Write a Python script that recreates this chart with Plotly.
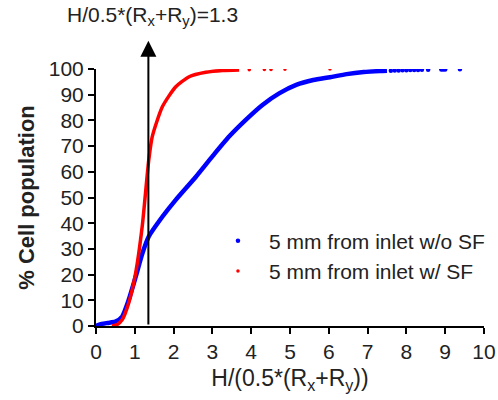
import plotly.graph_objects as go

# Blue: 5 mm from inlet w/o SF (main curve)
blue_x = [0.0, 0.15, 0.3, 0.5, 0.67, 0.84, 1.02, 1.19, 1.36, 1.71, 2.05, 2.57, 3.0, 3.43, 3.86, 4.29, 4.72, 5.16, 5.6, 6.03, 6.46, 6.9, 7.32, 7.5]
blue_y = [0.0, 0.8, 1.2, 1.7, 3.6, 10.0, 19.0, 28.0, 34.8, 42.5, 49.0, 58.0, 66.0, 73.7, 80.2, 86.0, 90.5, 93.8, 95.7, 96.8, 98.0, 98.8, 99.2, 99.3]
# Blue tail points (sparser, drawn as dots)
blue_tail_x = [7.6, 7.7, 7.8, 7.9, 8.0, 8.1, 8.2, 8.3, 8.4, 8.56, 8.9, 8.95, 9.0, 9.38]
blue_tail_y = [99.3, 99.4, 99.4, 99.5, 99.5, 99.6, 99.6, 99.6, 99.7, 99.7, 99.8, 99.8, 99.8, 99.9]

# Red: 5 mm from inlet w/ SF (main curve)
red_x = [0.41, 0.55, 0.67, 0.84, 1.02, 1.19, 1.36, 1.45, 1.71, 2.05, 2.4, 2.83, 3.26, 3.69]
red_y = [0.0, 0.6, 2.3, 8.8, 20.5, 38.6, 64.6, 73.7, 85.3, 93.0, 97.0, 98.7, 99.4, 99.6]
# Red isolated tail points
red_tail_x = [3.95, 4.34, 4.51, 4.87, 6.03]
red_tail_y = [99.7, 99.8, 99.8, 99.9, 100.0]

x_ticks = [0, 1, 2, 3, 4, 5, 6, 7, 8, 9, 10]
y_ticks = [0, 10, 20, 30, 40, 50, 60, 70, 80, 90, 100]

threshold = 1.3
arrow_x = 1.35

BLUE = "#0000ff"
RED = "#ff0000"
FONT = "Liberation Sans, Arial"

fig = go.Figure()
fig.add_trace(go.Scatter(x=blue_x, y=blue_y, mode="lines",
                         line=dict(color=BLUE, width=4.5, shape="spline", smoothing=0.6),
                         showlegend=False, hoverinfo="skip"))
fig.add_trace(go.Scatter(x=blue_tail_x, y=blue_tail_y, mode="markers", marker=dict(color=BLUE, size=4.5),
                         name="5 mm from inlet w/o SF"))
fig.add_trace(go.Scatter(x=red_x, y=red_y, mode="lines",
                         line=dict(color=RED, width=3.5, shape="spline", smoothing=0.6),
                         showlegend=False, hoverinfo="skip"))
fig.add_trace(go.Scatter(x=red_tail_x, y=red_tail_y, mode="markers", marker=dict(color=RED, size=3.5),
                         name="5 mm from inlet w/ SF"))

fig.add_annotation(x=arrow_x, y=111, ax=arrow_x, ay=0, xref="x", yref="y", axref="x", ayref="y",
                   showarrow=True, arrowhead=2, arrowsize=1.6, arrowwidth=2, arrowcolor="black", text="")
fig.add_annotation(x=arrow_x, y=1.0, xref="x", yref="paper", yanchor="bottom", yshift=38, xshift=4,
                   text="H/0.5*(R<sub>x</sub>+R<sub>y</sub>)=" + str(threshold), showarrow=False,
                   font=dict(family=FONT, size=21, color="#222"))

fig.update_layout(
    width=498, height=400,
    margin=dict(l=96, r=14, t=69, b=74, autoexpand=False),
    plot_bgcolor="white", paper_bgcolor="white",
    font=dict(family=FONT, color="#222"),
    legend=dict(x=0.286, y=0.41, xanchor="left", yanchor="top", bgcolor="rgba(0,0,0,0)",
                font=dict(size=21, color="#222"), tracegroupgap=6, itemwidth=52),
    xaxis=dict(range=[0, 10], tickvals=x_ticks, ticks="outside", ticklen=6, tickwidth=2, tickcolor="black",
               showline=True, linecolor="black", linewidth=2, showgrid=False, zeroline=False,
               tickfont=dict(size=21, color="#222"), automargin=False,
               title=dict(text="H/(0.5*(R<sub>x</sub>+R<sub>y</sub>))", font=dict(size=23, color="#222"), standoff=8)),
    yaxis=dict(range=[0, 100], tickvals=y_ticks, ticks="outside", ticklen=6, tickwidth=2, tickcolor="black",
               showline=True, linecolor="black", linewidth=2, showgrid=False, zeroline=False,
               tickfont=dict(size=21, color="#222"), automargin=False,
               title=dict(text="<b>% Cell population</b>", font=dict(size=22, color="#222"), standoff=8)),
)

fig.write_html("out.html")
